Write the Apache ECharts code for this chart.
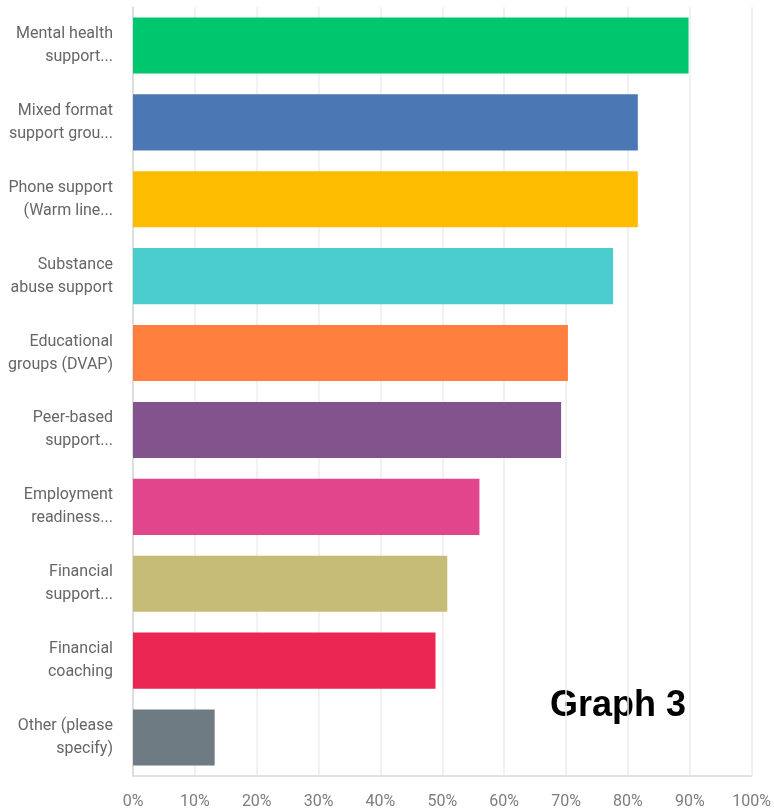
<!DOCTYPE html>
<html>
<head>
<meta charset="utf-8">
<script src="https://cdn.jsdelivr.net/npm/echarts@6/dist/echarts.min.js"></script>
<style>
  html, body { margin: 0; padding: 0; background: #fff; }
  #chart { width: 774px; height: 810px; }
</style>
</head>
<body>
<div id="chart"></div>
<script>
// answer choices, top to bottom
const categories = [
  'Mental health\nsupport...',
  'Mixed format\nsupport grou...',
  'Phone support\n(Warm line...',
  'Substance\nabuse support',
  'Educational\ngroups (DVAP)',
  'Peer-based\nsupport...',
  'Employment\nreadiness...',
  'Financial\nsupport...',
  'Financial\ncoaching',
  'Other (please\nspecify)'
];
// percent of respondents
const values = [89.8, 81.6, 81.6, 77.6, 70.3, 69.2, 56.0, 50.8, 48.9, 13.2];
const xTicks = [0, 10, 20, 30, 40, 50, 60, 70, 80, 90, 100];

const palette = ['#00C66E', '#4B78B5', '#FEBC00', '#4BCDCE', '#FF7F3E',
                 '#83538E', '#E1458B', '#C7BB78', '#EB2652', '#6F7B82'];

var myChart = echarts.init(document.getElementById('chart'));
const option = {
  animation: false,
  grid: { left: 133, right: 19, top: 7, bottom: 34 },
  xAxis: {
    type: 'value',
    min: xTicks[0],
    max: xTicks[xTicks.length - 1],
    interval: 10,
    axisLine: { show: true, lineStyle: { color: '#d9d9d9', width: 1.5 } },
    axisTick: { show: false },
    splitLine: { show: true, lineStyle: { color: '#ededed', width: 1.5 } },
    axisLabel: {
      margin: 18,
      color: '#7d7d7d',
      fontSize: 16,
      fontFamily: 'Roboto',
      formatter: '{value}%'
    }
  },
  yAxis: {
    type: 'category',
    inverse: true,
    data: categories,
    axisLine: { show: true, lineStyle: { color: '#d9d9d9', width: 1.5 } },
    axisTick: { show: false },
    axisLabel: {
      margin: 20,
      color: '#666',
      fontSize: 16,
      lineHeight: 23,
      fontFamily: 'Roboto',
      align: 'right'
    }
  },
  series: [{
    type: 'bar',
    barCategoryGap: '27%',
    data: values.map((v, i) => ({
      value: v,
      itemStyle: { color: palette[i] }
    }))
  }],
  graphic: [{
    type: 'text',
    left: 550,
    top: 688,
    style: {
      text: 'Graph 3',
      fill: '#000',
      font: 'bold 36px "Liberation Sans", Arial, sans-serif'
    }
  }]
};
myChart.setOption(option);
</script>
</body>
</html>
